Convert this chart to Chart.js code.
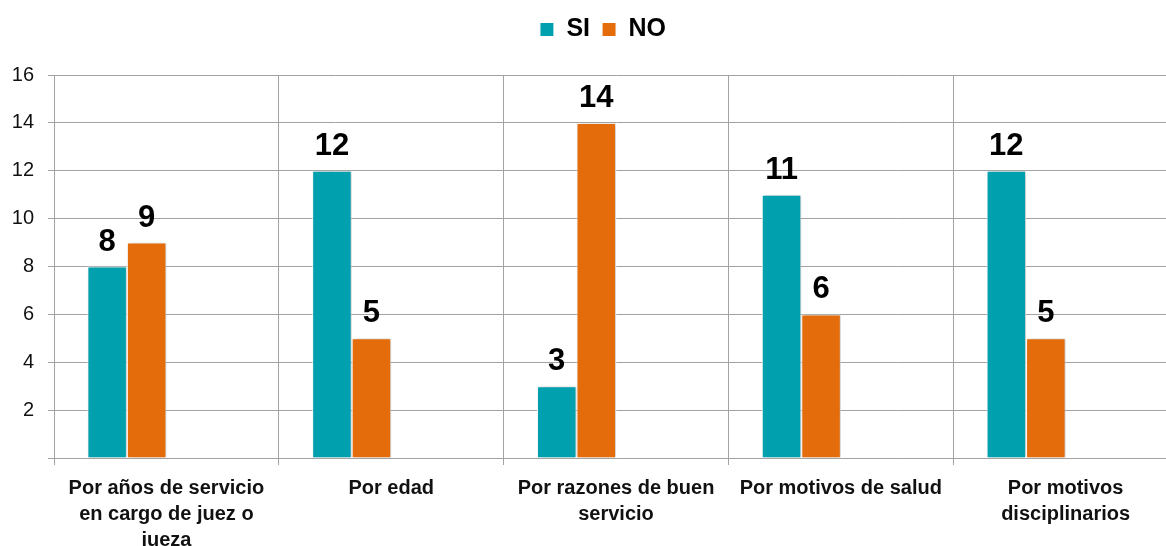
<!DOCTYPE html>
<html>
<head>
<meta charset="utf-8">
<title>Retiro</title>
<script src="https://cdn.jsdelivr.net/npm/chart.js@4/dist/chart.umd.min.js"></script>
<style>
  html, body { margin: 0; padding: 0; background: #fff; overflow: hidden; }
  #wrap { width: 1206px; height: 546px; }
</style>
</head>
<body>
<div id="wrap"><canvas id="barChart" width="1206" height="546"></canvas></div>
<script>
// categorias (multilinea) y valores
var categories = [
  ["Por años de servicio", "en cargo de juez o", "jueza"],
  "Por edad",
  ["Por razones de buen", "servicio"],
  "Por motivos de salud",
  ["Por motivos", "disciplinarios"]
];
var siValues = [8, 12, 3, 11, 12];
var noValues = [9, 5, 14, 6, 5];
var yTicks = [0, 2, 4, 6, 8, 10, 12, 14, 16];

var TEAL = '#00A0AF';
var ORANGE = '#E46C0A';
var GRID = '#A3A3A3';

Chart.defaults.font.family = '"Liberation Sans", Arial, sans-serif';
Chart.defaults.color = '#111';

// numeros encima de cada barra + sombra suave de las barras
var valueLabels = {
  id: 'valueLabels',
  beforeDatasetsDraw: function(chart) {
    var ctx = chart.ctx;
    ctx.save();
    ctx.shadowColor = 'rgba(0,0,0,0.22)';
    ctx.shadowBlur = 4;
    ctx.shadowOffsetX = 2;
    ctx.shadowOffsetY = 0;
  },
  afterDatasetsDraw: function(chart) {
    var ctx = chart.ctx;
    ctx.restore();
    ctx.save();
    ctx.font = 'bold 31px "Liberation Sans", Arial, sans-serif';
    ctx.fillStyle = '#000';
    ctx.textAlign = 'center';
    ctx.textBaseline = 'alphabetic';
    chart.data.datasets.forEach(function(ds, i) {
      if (!ds.data.length) return;
      chart.getDatasetMeta(i).data.forEach(function(bar, j) {
        ctx.fillText(ds.data[j], bar.x, bar.y - 16);
      });
    });
    ctx.restore();
  }
};

var ctx = document.getElementById('barChart').getContext('2d');
var chart = new Chart(ctx, {
  type: 'bar',
  data: {
    labels: categories,
    datasets: [
      { label: 'SI', data: siValues, backgroundColor: TEAL, borderColor: '#fff', borderWidth: 1 },
      { label: 'NO', data: noValues, backgroundColor: ORANGE, borderColor: '#fff', borderWidth: 1 },
      // huecos vacios para dejar el espacio a la derecha de cada grupo
      { label: '', data: [], backgroundColor: 'transparent' },
      { label: '', data: [], backgroundColor: 'transparent' }
    ]
  },
  options: {
    responsive: false,
    animation: false,
    events: [],
    layout: { padding: { top: 5, left: 0, right: 0, bottom: 0 } },
    datasets: {
      bar: { categoryPercentage: 0.703, barPercentage: 1 }
    },
    plugins: {
      tooltip: { enabled: false },
      legend: {
        position: 'top',
        labels: {
          boxWidth: 14,
          boxHeight: 14,
          padding: 12,
          color: '#000',
          font: { size: 25, weight: 'bold' },
          filter: function(item) { return item.text !== ''; }
        }
      },
      // espacio entre leyenda y grafico
      title: {
        display: true,
        text: '',
        weight: 500,
        padding: 0,
        font: { size: 23, lineHeight: 1 }
      }
    },
    scales: {
      x: {
        grid: { color: GRID, lineWidth: 1, tickLength: 7, offset: true },
        border: { color: GRID },
        ticks: {
          color: '#111',
          padding: 10,
          maxRotation: 0,
          autoSkip: false,
          font: { size: 20, weight: 'bold', lineHeight: 1.3 }
        },
        afterFit: function(s) { s.height = 88; }
      },
      y: {
        min: 0,
        max: 16,
        afterBuildTicks: function(s) { s.ticks = yTicks.map(function(v) { return { value: v }; }); },
        grid: { color: GRID, lineWidth: 1, tickLength: 6 },
        border: { color: GRID },
        ticks: {
          color: '#111',
          padding: 14,
          font: { size: 20 },
          callback: function(v) { return v === 0 ? '' : v; }
        },
        afterFit: function(s) { s.width = 54; }
      },
      y2: {
        position: 'right',
        display: true,
        grid: { display: false },
        border: { display: false },
        ticks: { display: false },
        afterFit: function(s) { s.width = 28; }
      }
    }
  },
  plugins: [valueLabels]
});
</script>
</body>
</html>
